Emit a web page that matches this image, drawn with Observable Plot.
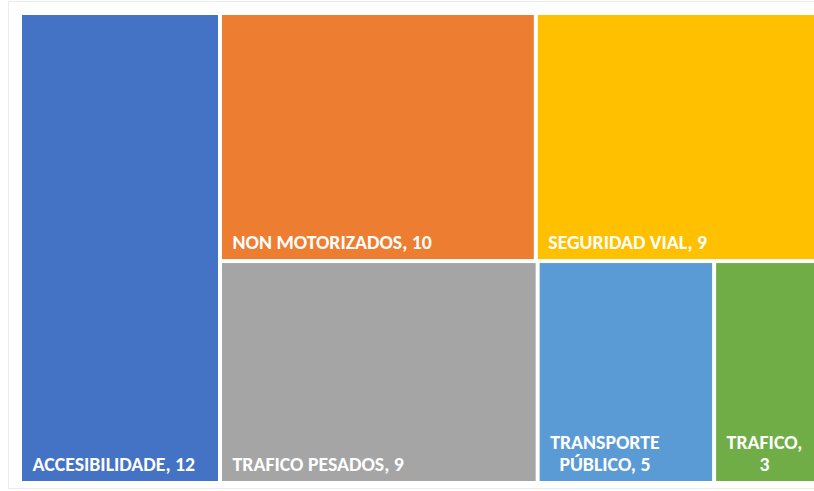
<!DOCTYPE html>
<html><head><meta charset="utf-8">
<script src="https://cdn.jsdelivr.net/npm/d3@7"></script>
<script src="https://cdn.jsdelivr.net/npm/@observablehq/plot@0.6"></script>
<style>
html,body{margin:0;padding:0;background:#fff;}
#wrap{position:relative;width:814px;height:491px;overflow:hidden;}
#border{position:absolute;left:8px;top:1px;width:840px;height:488px;border:1px solid #ececec;box-sizing:border-box;}
#chart{position:absolute;left:0;top:0;}
</style></head><body>
<div id="wrap"><div id="border"></div><div id="chart"></div></div>
<script>
// ---- data ----
const categories = ["ACCESIBILIDADE", "NON MOTORIZADOS", "SEGURIDAD VIAL", "TRAFICO PESADOS", "TRANSPORTE PÚBLICO", "TRAFICO"];
const values = [12, 10, 9, 9, 5, 3];
const palette = ["#4472C4", "#ED7D31", "#FFC000", "#A5A5A5", "#5B9BD5", "#70AD47"];

// ---- layout (Excel-like: largest tile as a column, the rest in two rows) ----
const W = 814, H = 491;
const FONT = "Carlito, Calibri, Lato, sans-serif";
const FS = 19.8, FW = 600, PAD = 12;
const leaves = categories.map((name, i) => ({name, value: values[i], color: palette[i]}));
const rest = leaves.slice(1);
const tree = {children: [leaves[0], {children: [{children: rest.slice(0, 2)}, {children: rest.slice(2)}]}]};
const root = d3.hierarchy(tree).sum(d => d.value || 0);
d3.treemap().tile(d3.treemapSliceDice).size([1, 1]).round(false)(root);
const nodes = root.leaves().map(n => ({...n.data, x0: n.x0, x1: n.x1, y0: n.y0, y1: n.y1}));

const xScale = Plot.scale({x: {domain: [0, 1], range: [20, 820]}});

const ctx = document.createElement("canvas").getContext("2d");
ctx.font = `${FW} ${FS}px ${FONT}`;
function wrap(text, maxW) {
  const words = text.split(" ");
  const lines = [];
  let cur = "";
  for (const w of words) {
    const t = cur ? cur + " " + w : w;
    if (cur && ctx.measureText(t).width > maxW) { lines.push(cur); cur = w; }
    else cur = t;
  }
  if (cur) lines.push(cur);
  return lines.join("\n");
}
for (const d of nodes) {
  const wpx = xScale.apply(d.x1) - xScale.apply(d.x0) - 4 - 2 * PAD;
  d.label = wrap(`${d.name}, ${d.value}`, wpx);
}

const chart = Plot.plot({
  width: W, height: H,
  margin: 0,
  x: {domain: [0, 1], range: [20, 820], axis: null},
  y: {domain: [0, 1], range: [13, 483], axis: null},
  style: {fontFamily: FONT, background: "transparent"},
  marks: [
    Plot.rect(nodes, {x1: "x0", x2: "x1", y1: "y0", y2: "y1", fill: "color", inset: 2}),
    Plot.text(nodes, {
      x: "x0", y: "y1", text: "label",
      textAnchor: "start", lineAnchor: "bottom",
      dx: 12, dy: -13, lineHeight: 1.1,
      fill: "white", fontSize: FS, fontWeight: FW
    })
  ]
});
document.getElementById("chart").appendChild(chart);

// centre the lines of a wrapped label against each other, as Excel does
chart.querySelectorAll("text").forEach(t => {
  const spans = t.querySelectorAll("tspan");
  if (spans.length < 2) return;
  const ws = Array.from(spans, s => s.getComputedTextLength());
  const m = Math.max(...ws);
  spans.forEach((s, i) => s.setAttribute("x", (m - ws[i]) / 2));
});
</script>
</body></html>
